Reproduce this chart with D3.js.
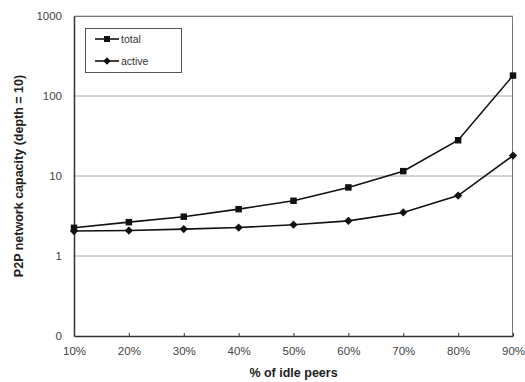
<!DOCTYPE html>
<html>
<head>
<meta charset="utf-8">
<script src="https://cdn.jsdelivr.net/npm/d3@7"></script>
<style>
  html, body { margin: 0; padding: 0; background: #fff; }
  svg { display: block; font-family: "Liberation Sans", Arial, sans-serif; }
</style>
</head>
<body>
<svg id="chart" width="525" height="382"></svg>
<script>
// Idle-peer percentages along the x axis
const categories = ["10%", "20%", "30%", "40%", "50%", "60%", "70%", "80%", "90%"];
// Network capacity at depth 10
const totalValues  = [2.25, 2.65, 3.1, 3.85, 4.9, 7.2, 11.5, 28, 180];
const activeValues = [2.05, 2.08, 2.17, 2.27, 2.46, 2.75, 3.5, 5.7, 18];
// Log axis ticks (lowest one printed as "0")
const yTicks = [0.1, 1, 10, 100, 1000];
const yTickLabels = ["0", "1", "10", "100", "1000"];

const svg = d3.select("#chart");
const margin = { left: 74, right: 12, top: 16, bottom: 46 };
const W = 525, H = 382;

const x = d3.scalePoint().domain(categories).range([margin.left, W - margin.right]);
const y = d3.scaleLog().domain([0.1, 1000]).range([H - margin.bottom, margin.top]);

const x0 = margin.left, x1 = W - margin.right;
const y0 = H - margin.bottom, y1 = margin.top;

// Horizontal gridlines
svg.append("g").selectAll("line").data(yTicks.slice(1)).join("line")
  .attr("x1", x0).attr("x2", x1)
  .attr("y1", d => y(d)).attr("y2", d => y(d))
  .attr("stroke", "#a8a8a8").attr("stroke-width", 1);

// Plot frame: top and right in grey
svg.append("path")
  .attr("d", `M${x0},${y1 + 0.5}H${x1 - 0.5}V${y0}`)
  .attr("fill", "none").attr("stroke", "#777").attr("stroke-width", 1);

// Y axis
const yAxis = svg.append("g")
  .attr("transform", `translate(${x0},0)`)
  .call(d3.axisLeft(y).tickValues(yTicks).tickFormat((d, i) => yTickLabels[i]).tickSize(0).tickPadding(12));
yAxis.select(".domain").attr("stroke", "#333").attr("stroke-width", 1.5);
yAxis.selectAll("text").attr("font-size", 11.5).attr("fill", "#444");

// X axis with short inward ticks
const xAxis = svg.append("g")
  .attr("transform", `translate(0,${y0})`)
  .call(d3.axisBottom(x).tickSizeInner(-3).tickSizeOuter(0).tickPadding(11));
xAxis.select(".domain").attr("stroke", "#333").attr("stroke-width", 1.5);
xAxis.selectAll(".tick line").attr("stroke", "#333");
xAxis.selectAll("text").attr("font-size", 11.5).attr("fill", "#444");

// Axis titles
svg.append("text")
  .attr("x", (x0 + x1) / 2).attr("y", 377)
  .attr("text-anchor", "middle").attr("font-size", 12.5).attr("font-weight", "bold")
  .attr("fill", "#222").text("% of idle peers");
svg.append("text")
  .attr("transform", `translate(23,${(y0 + y1) / 2}) rotate(-90)`)
  .attr("text-anchor", "middle").attr("font-size", 12.5).attr("font-weight", "bold")
  .attr("fill", "#222").text("P2P network capacity (depth = 10)");

const line = d3.line().x((d, i) => x(categories[i])).y(d => y(d));

// Squares for "total", squares turned 45° (equal-width diamonds) for "active"
const series = [
  { name: "total", values: totalValues, size: 42, rotate: 0 },
  { name: "active", values: activeValues, size: 34, rotate: 45 }
];

series.forEach(s => {
  svg.append("path").datum(s.values)
    .attr("d", line).attr("fill", "none")
    .attr("stroke", "#111").attr("stroke-width", 1.6);
  svg.append("g").selectAll("path").data(s.values).join("path")
    .attr("transform", (d, i) => `translate(${x(categories[i])},${y(d)}) rotate(${s.rotate})`)
    .attr("d", d3.symbol().type(d3.symbolSquare).size(s.size))
    .attr("fill", "#111");
});

// Legend
const lg = svg.append("g");
lg.append("rect").attr("x", 85.5).attr("y", 28.5).attr("width", 96).attr("height", 44)
  .attr("fill", "#fff").attr("stroke", "#555").attr("stroke-width", 1);
series.forEach((s, i) => {
  const ly = 39 + i * 22;
  lg.append("line").attr("x1", 95).attr("x2", 119).attr("y1", ly).attr("y2", ly)
    .attr("stroke", "#111").attr("stroke-width", 1.6);
  lg.append("path").attr("transform", `translate(107,${ly}) rotate(${s.rotate})`)
    .attr("d", d3.symbol().type(d3.symbolSquare).size(s.size - 6)).attr("fill", "#111");
  lg.append("text").attr("x", 121).attr("y", ly + 4)
    .attr("font-size", 10.5).attr("fill", "#333").text(s.name);
});
</script>
</body>
</html>
